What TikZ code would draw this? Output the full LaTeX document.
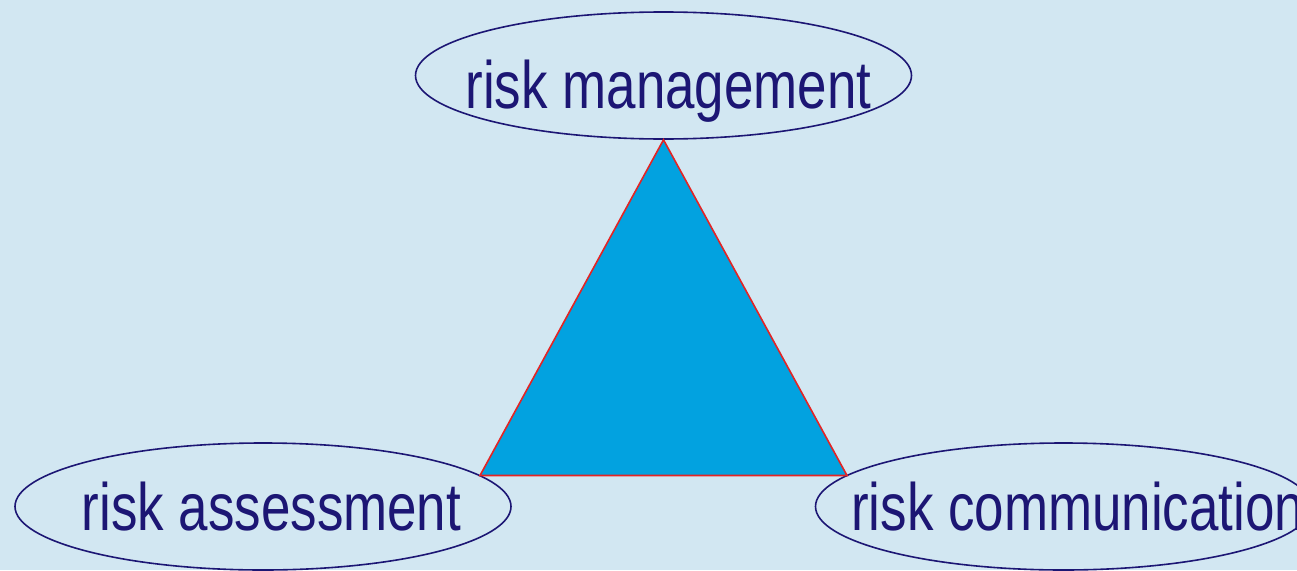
\documentclass[tikz,border=0pt]{standalone}
\usepackage{fontspec}
\newfontfamily\narrowsans[FakeStretch=0.79]{Liberation Sans}
\usetikzlibrary{shapes.geometric}
\definecolor{bgblue}{RGB}{210,231,242}
\definecolor{navy}{RGB}{28,22,116}
\definecolor{trifill}{RGB}{2,162,224}
\definecolor{trired}{RGB}{228,36,36}
\tikzset{
  oval/.style={ellipse, draw=navy, line width=1.6pt, minimum width=496pt, minimum height=127pt, inner sep=0pt},
  lbl/.style={text=navy, inner sep=0pt, font=\narrowsans\fontsize{67}{80}\selectfont},
  tri/.style={fill=trifill, draw=trired, line width=1.6pt, line join=miter}
}
\begin{document}
\begin{tikzpicture}[x=1pt,y=-1pt]
\useasboundingbox (0,0) rectangle (1297,570);
\fill[bgblue] (0,0) rectangle (1297,570);
\clip (0,0) rectangle (1297,570);
\node[oval] (mgmt) at (663.5,75.5) {};
\node[oval] (assess) at (263,506.5) {};
\node[oval] (comm) at (1063.5,506.5) {};
\coordinate (triL) at (480,475.5);
\coordinate (triR) at (847,475.5);
\draw[tri] (mgmt.south) -- (triR) -- (triL) -- cycle;
\node[lbl, anchor=base] (mgmtText) at (668.5,108) {risk management};
\node[lbl, anchor=base] (assessText) at (271.5,530) {risk assessment};
\node[lbl, anchor=base west] (commText) at (851,530) {risk communication};
\end{tikzpicture}
\end{document}
